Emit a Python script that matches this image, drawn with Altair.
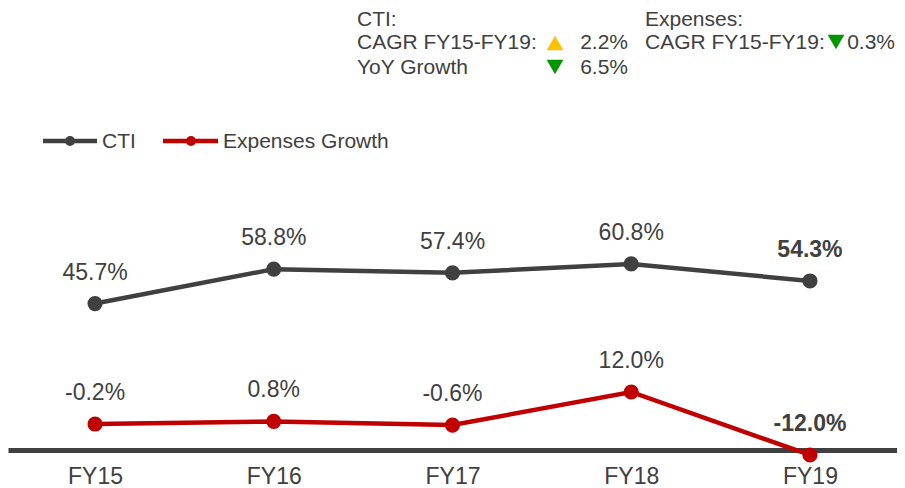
import altair as alt
import pandas as pd

# ---- data ----
years = ["FY15", "FY16", "FY17", "FY18", "FY19"]
cti = [45.7, 58.8, 57.4, 60.8, 54.3]
expenses_growth = [-0.2, 0.8, -0.6, 12.0, -12.0]
series = ["CTI", "Expenses Growth"]
series_colors = ["#404040", "#C00000"]

cti_title = "CTI:"
cagr_label = "CAGR FY15-FY19:"
yoy_label = "YoY Growth"
cti_cagr = "2.2%"
cti_yoy = "6.5%"
exp_title = "Expenses:"
exp_cagr = "0.3%"

rows = []
for s, vals in zip(series, [cti, expenses_growth]):
    for yr, v in zip(years, vals):
        rows.append({"year": yr, "series": s, "value": v,
                     "label": f"{v:.1f}%", "last": yr == years[-1]})
df = pd.DataFrame(rows)

FONT = "Liberation Sans"
TXT = "#404040"
UP = "#FFC000"
DOWN = "#009600"

x = alt.X("year:N", sort=years,
          scale=alt.Scale(type="point", padding=0.487),
          axis=alt.Axis(title=None, ticks=False, tickSize=0, labelPadding=15,
                        labelFontSize=23, labelColor=TXT, labelFont=FONT,
                        domainColor="#404040", domainWidth=5, grid=False,
                        labelAngle=0))
y = alt.Y("value:Q", scale=alt.Scale(domain=[-10.1, 158.3], nice=False, zero=False),
          axis=None)
color = alt.Color("series:N", scale=alt.Scale(domain=series, range=series_colors),
                  legend=None)

base = alt.Chart(df).encode(x=x, y=y, color=color)
lines = base.mark_line(strokeWidth=4.5)
points = base.mark_point(filled=True, size=230, opacity=1)
labels = base.transform_filter("!datum.last").mark_text(
    baseline="alphabetic", dy=-24, fontSize=23, font=FONT
).encode(text="label:N", color=alt.value(TXT))
labels_last = base.transform_filter("datum.last").mark_text(
    baseline="alphabetic", dy=-24, fontSize=23, font=FONT, fontWeight="bold"
).encode(text="label:N", color=alt.value(TXT))

one = pd.DataFrame({"k": [0]})


def txt(s, xv, yv, align="left", size=21):
    return alt.Chart(one).mark_text(text=s, align=align, baseline="alphabetic",
                                    fontSize=size, font=FONT, color=TXT
                                    ).encode(x=alt.value(xv), y=alt.value(yv))


def tri(shape, col, xv, yv):
    return alt.Chart(one).mark_point(shape=shape, filled=True, size=280, opacity=1,
                                     color=col).encode(x=alt.value(xv), y=alt.value(yv))


def legend_item(name, col, x0, x1, xdot, xtext, yv):
    rule = alt.Chart(one).mark_rule(color=col, strokeWidth=4.5).encode(
        x=alt.value(x0), x2=alt.value(x1), y=alt.value(yv))
    dot = alt.Chart(one).mark_point(filled=True, color=col, size=100, opacity=1).encode(
        x=alt.value(xdot), y=alt.value(yv))
    t = txt(name, xtext, yv + 7)
    return [rule, dot, t]


annotations = [
    txt(cti_title, 349, 18),
    txt(cagr_label, 349, 41),
    txt(yoy_label, 349, 66),
    tri("triangle-up", UP, 547, 35),
    tri("triangle-down", DOWN, 547, 59),
    txt(cti_cagr, 620, 41, align="right"),
    txt(cti_yoy, 620, 66, align="right"),
    txt(exp_title, 637, 18),
    txt(cagr_label, 637, 41),
    tri("triangle-down", DOWN, 828, 34),
    txt(exp_cagr, 887, 41, align="right"),
]

legend = (legend_item(series[0], series_colors[0], 35, 89, 62, 94, 133)
          + legend_item(series[1], series_colors[1], 155, 210, 183, 215, 133))

chart = alt.layer(lines, points, labels, labels_last, *annotations, *legend).properties(
    width=889, height=442, padding=0
).configure_view(stroke=None)

chart.save("out.html", embed_options={"renderer": "svg", "actions": False})
